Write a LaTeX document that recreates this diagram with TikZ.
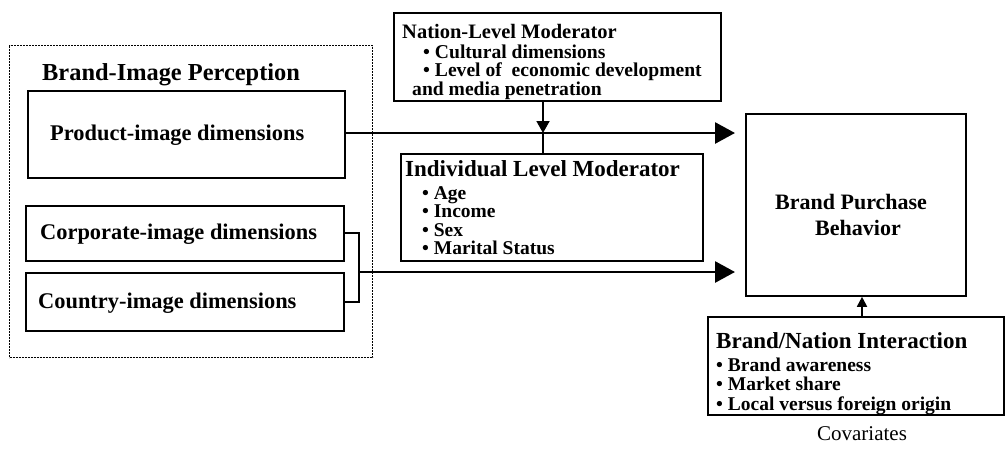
\documentclass[tikz,border=0pt]{standalone}
\usepackage{fontspec}
\setmainfont{Liberation Serif}
\usetikzlibrary{arrows.meta}
\begin{document}
\begin{tikzpicture}[x=1pt,y=-1pt,
  box/.style={draw, line width=1.8pt, anchor=north west, inner sep=0pt},
  txt/.style={anchor=base west, inner sep=0pt},
  lbl/.style={txt, font=\bfseries\fontsize{22.4}{24}\selectfont},
  ntitle/.style={txt, font=\bfseries\fontsize{20.5}{22}\selectfont},
  ntxt/.style={txt, font=\bfseries\fontsize{19.6}{21}\selectfont},
  itxt/.style={txt, font=\bfseries\fontsize{19.5}{21}\selectfont},
  ititle/.style={txt, font=\bfseries\fontsize{23}{25}\selectfont},
  flow/.style={line width=2.8pt, shorten >=10pt, -{Triangle[length=20pt,width=21pt]}},
  thin/.style={line width=1.8pt},
  small/.style={line width=1.8pt, -{Triangle[length=12pt,width=13pt]}},
  dashbox/.style={draw, line width=1.3pt, dash pattern=on 2pt off 1pt}]
\useasboundingbox (0,0) rectangle (1008,450);

% outer dashed group
\node[dashbox, anchor=north west, minimum width=363pt, minimum height=312pt, inner sep=0pt] (group) at (9,45) {};
\node[txt, font=\bfseries\fontsize{24.4}{26}\selectfont] (gtitle) at (42,80) {Brand-Image Perception};

% left boxes
\node[box, minimum width=317pt, minimum height=87pt] (prod) at (27,90) {};
\node[lbl] (prodt) at (50,140) {Product-image dimensions};
\node[box, minimum width=318pt, minimum height=55pt] (corp) at (25,205) {};
\node[lbl] (corpt) at (40,239) {Corporate-image dimensions};
\node[box, minimum width=318pt, minimum height=58pt] (ctry) at (25,272) {};
\node[lbl] (ctryt) at (38,308) {Country-image dimensions};

% nation level moderator
\node[box, minimum width=327pt, minimum height=88pt] (nation) at (393,12) {};
\node[ntitle] (n0) at (402,38) {Nation-Level Moderator};
\node[ntxt] (n1) at (423,58) {\textbullet\ Cultural dimensions};
\node[ntxt] (n2) at (423,76.5) {\textbullet\ Level of\ \ economic development};
\node[ntxt] (n3) at (412,95) {and media penetration};

% individual level moderator
\node[box, minimum width=302pt, minimum height=107pt] (indiv) at (400,153) {};
\node[ititle] (i0) at (405,176) {Individual Level Moderator};
\node[itxt] (i1) at (422,199) {\textbullet\ Age};
\node[itxt] (i2) at (422,217.5) {\textbullet\ Income};
\node[itxt] (i3) at (422,236) {\textbullet\ Sex};
\node[itxt] (i4) at (422,254.5) {\textbullet\ Marital Status};

% brand purchase behavior
\node[box, minimum width=220pt, minimum height=182pt] (bpb) at (745,113) {};
\node[txt, font=\bfseries\fontsize{22}{24}\selectfont] (b1t) at (775,209) {Brand Purchase};
\node[txt, font=\bfseries\fontsize{22}{24}\selectfont] (b2t) at (815,235) {Behavior};

% brand/nation interaction
\node[box, minimum width=296pt, minimum height=98pt] (bni) at (707,316) {};
\node[ititle] (bn0) at (716,348) {Brand/Nation Interaction};
\node[itxt] (bn1) at (716,371) {\textbullet\ Brand awareness};
\node[itxt] (bn2) at (716,390) {\textbullet\ Market share};
\node[itxt] (bn3) at (716,410) {\textbullet\ Local versus foreign origin};
\node[anchor=base, inner sep=0pt, font=\fontsize{21}{23}\selectfont] (cov) at (862,440) {Covariates};

% connectors
\coordinate (pj) at (prod.east |- 0,133);
\draw[flow] (pj) -- (bpb.west |- pj);
\coordinate (junc) at (543,133);
\draw[small] (nation.south -| junc) -- (junc);
\draw[thin] (junc) -- (indiv.north -| junc);

\coordinate (c1) at (corp.east |- 0,233);
\coordinate (c2) at (ctry.east |- 0,302);
\coordinate (b1) at (359,233);
\coordinate (b2) at (359,302);
\coordinate (bm) at (359,272);
\draw[thin] (c1) -- (b1) -- (b2) -- (c2);
\draw[flow] (bm) -- (bpb.west |- bm);

\draw[small, -{Triangle[length=10pt,width=10pt]}] (bni.north -| 862,0) -- (bpb.south -| 862,0);
\end{tikzpicture}
\end{document}
